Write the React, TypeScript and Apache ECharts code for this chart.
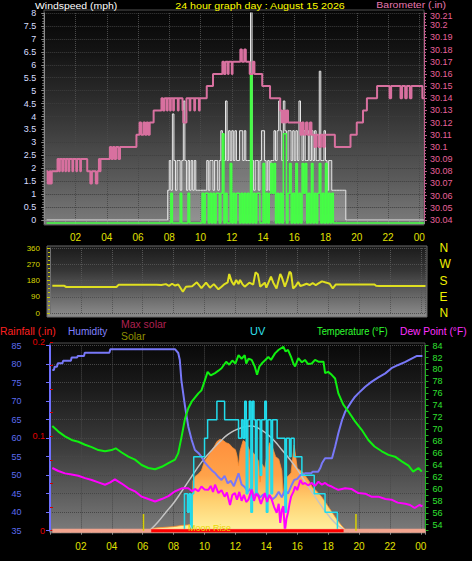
import React, { useEffect, useRef } from 'react';
import * as echarts from 'echarts';

// ---------------- data ----------------
const hourLabels = ['', '02', '04', '06', '08', '10', '12', '14', '16', '18', '20', '22', '00'];
const compass = ['N', 'E', 'S', 'W', 'N'];

const dayStart = 0.15;
const dayEnd = 24.3;

// barometer (in) step changes [hour, value]
const barometer: number[][] = [
  [0.15, 30.08], [0.22, 30.07], [0.35, 30.08], [0.4, 30.07], [0.48, 30.08], [0.85, 30.09], [0.95, 30.08],
  [1.0, 30.09], [1.15, 30.08], [1.2, 30.09], [1.35, 30.08], [1.4, 30.09], [1.55, 30.08], [1.6, 30.09],
  [1.8, 30.08], [1.85, 30.09], [2.05, 30.08], [2.1, 30.09], [2.3, 30.08], [2.35, 30.09], [2.75, 30.08],
  [2.95, 30.07], [3.05, 30.08], [3.3, 30.07], [3.4, 30.08], [3.5, 30.09], [3.55, 30.08], [3.6, 30.09],
  [4.2, 30.1], [4.3, 30.09], [4.4, 30.1], [4.5, 30.09], [4.6, 30.1], [4.75, 30.09], [4.85, 30.1],
  [5.9, 30.11], [6.1, 30.12], [6.2, 30.11], [6.35, 30.12], [6.45, 30.11], [6.55, 30.12], [6.65, 30.11],
  [6.75, 30.12], [7.0, 30.13], [7.5, 30.14], [7.6, 30.13], [7.7, 30.14], [7.85, 30.13], [7.9, 30.14],
  [8.05, 30.13], [8.1, 30.14], [8.25, 30.13], [8.3, 30.14], [8.55, 30.13], [8.6, 30.14], [8.85, 30.13],
  [8.9, 30.12], [9.1, 30.14], [9.3, 30.13], [9.35, 30.14], [9.6, 30.13], [9.65, 30.14], [9.9, 30.13],
  [9.95, 30.14], [10.4, 30.15], [10.8, 30.16], [11.4, 30.17], [11.5, 30.16], [11.6, 30.17], [11.75, 30.16],
  [11.8, 30.17], [12.0, 30.16], [12.05, 30.17], [12.55, 30.18], [12.65, 30.17], [12.8, 30.18], [12.9, 30.17],
  [13.15, 30.16], [13.35, 30.17], [13.45, 30.16], [13.95, 30.15], [14.45, 30.14], [15.1, 30.13], [15.2, 30.12],
  [15.3, 30.13], [15.4, 30.12], [15.5, 30.13], [15.6, 30.12], [16.4, 30.11], [16.5, 30.12], [16.6, 30.11],
  [16.75, 30.12], [16.85, 30.11], [17.0, 30.12], [17.1, 30.11], [17.3, 30.1], [17.4, 30.11], [17.55, 30.1],
  [17.7, 30.11], [17.85, 30.1], [17.95, 30.11], [18.6, 30.1], [19.6, 30.11], [20.0, 30.12], [20.4, 30.13],
  [20.65, 30.14], [21.3, 30.15], [22.1, 30.14], [22.2, 30.15], [22.8, 30.14], [22.9, 30.15], [23.1, 30.14],
  [23.2, 30.15], [23.4, 30.14], [23.5, 30.15], [24.2, 30.14], [24.3, 30.14],
];

// wind (mph), sampled every 0.1 h from windStart
const windStart = 7.8;
const windStep = 0.1;
const gust = [
  0, 1.15, 2.3, 1.15, 4.1, 2.3, 1.15, 2.3, 2.3, 1.15, 2.3, 4.6, 2.3, 1.15, 2.3, 1.15, 2.3, 1.15, 2.3, 1.15,
  1.15, 1.15, 1.15, 1.15, 1.15, 1.15, 2.3, 1.15, 2.3, 2.3, 1.15, 2.3, 2.3, 1.15, 2.3, 3.45, 2.3, 2.3, 4.6, 2.3,
  3.45, 2.3, 3.45, 2.3, 3.45, 2.3, 2.3, 3.45, 3.45, 2.3, 3.45, 2.3, 2.3, 2.3, 8.05, 2.3, 1.15, 2.3, 2.3, 1.15,
  2.3, 3.45, 3.45, 2.3, 1.15, 2.3, 1.15, 2.3, 2.3, 3.45, 2.3, 3.45, 4.6, 3.45, 2.3, 4.6, 3.45, 2.3, 3.45, 3.45,
  2.3, 3.45, 2.3, 3.45, 2.3, 4.6, 3.45, 2.3, 3.45, 2.3, 2.3, 3.45, 2.3, 3.45, 2.3, 3.45, 2.3, 2.3, 5.75, 2.3,
  2.3, 3.45, 2.3, 1.15, 2.3, 2.3, 1.15, 1.15, 1.15, 1.15, 1.15, 1.15, 1.15, 1.15, 1.15, 0, 0,
];
const windAvg = [
  0, 0, 0, 1.15, 0, 0, 0, 0, 0, 1.15, 0, 0, 0, 0, 1.15, 0, 0, 0, 0, 0,
  0, 0, 0, 1.15, 0, 1.15, 1.15, 0, 1.15, 0, 1.15, 0, 1.15, 1.15, 0, 1.15, 3.45, 0, 1.15, 0,
  0, 2.3, 0, 1.15, 0, 1.15, 1.15, 0, 1.15, 0, 1.15, 0, 1.15, 0, 5.75, 0, 1.15, 0, 1.15, 1.15,
  0, 0, 2.3, 0, 1.15, 0, 1.15, 2.3, 1.15, 2.3, 0, 1.15, 0, 1.15, 0, 3.45, 3.45, 0, 1.15, 2.3,
  0, 1.15, 0, 2.3, 0, 1.15, 0, 2.3, 1.15, 2.3, 0, 1.15, 0, 2.3, 0, 1.15, 0, 1.15, 2.3, 0,
  1.15, 0, 2.3, 0, 1.15, 0, 1.15, 0, 0, 0, 0, 0, 0, 0, 0, 0, 0,
];

// wind direction (degrees)
const windDirection: number[][] = [
  [0.15, 151], [0.9, 151], [1.05, 144], [4.3, 144], [4.45, 157], [6.9, 157], [7.2, 155], [7.5, 160],
  [7.7, 150], [7.9, 162], [8.1, 152], [8.3, 158], [8.6, 118], [8.8, 145], [9.2, 148], [9.5, 170],
  [9.8, 138], [10.1, 168], [10.35, 140], [10.6, 160], [10.9, 131], [11.1, 145], [11.3, 160], [11.5, 170],
  [11.6, 216], [11.75, 175], [11.9, 155], [12.05, 183], [12.2, 160], [12.3, 183], [12.45, 160], [12.6, 146],
  [12.9, 168], [13.15, 157], [13.3, 225], [13.45, 215], [13.6, 146], [13.9, 168], [14.0, 140], [14.3, 201],
  [14.45, 168], [14.66, 136], [14.9, 216], [15.0, 199], [15.2, 146], [15.35, 180], [15.5, 229], [15.6, 220],
  [15.73, 136], [15.9, 150], [16.06, 172], [16.2, 150], [16.4, 155], [16.6, 162], [16.8, 155], [17.0, 165],
  [17.2, 155], [17.4, 165], [17.6, 175], [17.9, 168], [18.1, 162], [18.3, 136], [18.5, 158], [21.0, 158],
  [21.1, 151], [21.3, 149], [24.3, 149],
];

// humidity (%)
const humidity: number[][] = [
  [0.15, 78.4], [0.25, 78.4], [0.3, 79.3], [0.45, 79.3], [0.5, 80.2], [0.8, 80.2], [0.85, 80.9], [1.35, 80.9],
  [1.4, 81.8], [1.75, 81.8], [1.8, 82.2], [2.2, 82.2], [2.25, 83.1], [3.85, 83.1], [3.9, 84.0], [8.1, 84.0],
  [8.3, 83.0], [8.4, 81.1], [8.5, 75.7], [8.74, 68.5], [8.95, 63.1], [9.17, 59.5], [9.38, 56.8], [9.6, 56.0],
  [9.8, 55.0], [10.0, 53.5], [10.25, 52.3], [10.5, 51.2], [10.7, 50.5], [10.9, 49.5], [11.1, 48.7], [11.3, 49.8],
  [11.5, 47.8], [11.7, 48.5], [11.9, 47.0], [12.0, 48.2], [12.2, 50.5], [12.4, 47.5], [12.6, 46.8], [12.8, 45.5],
  [13.0, 46.5], [13.2, 44.5], [13.4, 45.2], [13.6, 44.0], [13.8, 44.8], [14.0, 43.8], [14.2, 44.5], [14.4, 43.5],
  [14.6, 44.2], [14.8, 45.5], [15.0, 44.0], [15.2, 46.0], [15.4, 45.0], [15.6, 47.0], [15.8, 48.7], [16.0, 49.0],
  [16.2, 50.0], [16.5, 50.5], [16.9, 50.5], [17.0, 50.9], [17.35, 50.9], [17.5, 52.0], [17.6, 53.2], [17.8, 54.6],
  [18.25, 54.6], [18.45, 57.7], [18.66, 61.3], [18.9, 64.9], [19.1, 67.1], [19.3, 68.5], [19.5, 69.8], [19.74, 71.2],
  [19.95, 72.1], [20.4, 73.9], [20.8, 75.2], [21.25, 76.4], [21.7, 77.5], [22.1, 78.9], [22.5, 79.7], [23.0, 80.6],
  [23.4, 81.5], [23.75, 82.2], [24.1, 82.2],
];

// temperature (F)
const temperature: number[][] = [
  [0.15, 70.55], [0.54, 69.6], [0.97, 68.8], [1.4, 68.2], [1.83, 67.9], [2.27, 67.4], [2.7, 67.0], [3.13, 66.5],
  [3.56, 66.3], [3.99, 66.5], [4.25, 66.8], [4.64, 66.1], [5.07, 65.4], [5.5, 64.9], [5.93, 64.0], [6.36, 63.5],
  [6.8, 63.3], [7.23, 63.7], [7.66, 64.3], [8.09, 64.9], [8.3, 66.0], [8.52, 68.8], [8.74, 71.8], [8.95, 73.5],
  [9.17, 74.6], [9.6, 76.0], [9.8, 76.5], [10.0, 78.0], [10.2, 79.6], [10.4, 79.0], [10.68, 79.4], [10.9, 79.8],
  [11.1, 80.2], [11.4, 81.3], [11.6, 80.8], [11.8, 81.5], [12.0, 81.0], [12.2, 82.4], [12.4, 81.8], [12.6, 82.4],
  [12.7, 81.0], [12.85, 81.8], [13.05, 81.6], [13.25, 80.5], [13.4, 79.1], [13.55, 80.5], [13.7, 81.0], [13.9, 81.5],
  [14.13, 82.1], [14.3, 81.6], [14.56, 82.7], [14.8, 83.3], [15.1, 83.8], [15.25, 83.0], [15.4, 83.3], [15.6, 82.1],
  [15.75, 81.0], [15.86, 80.5], [16.07, 81.9], [16.3, 81.2], [16.5, 81.6], [16.7, 80.9], [16.94, 81.0], [17.15, 81.6],
  [17.37, 81.3], [17.7, 81.3], [17.8, 79.4], [18.0, 79.6], [18.23, 79.1], [18.45, 78.5], [18.66, 76.0], [18.98, 74.1],
  [19.3, 73.0], [19.74, 71.3], [20.17, 69.9], [20.6, 68.2], [21.0, 67.1], [21.47, 66.3], [21.9, 65.7], [22.33, 65.4],
  [22.76, 64.6], [23.2, 63.9], [23.5, 62.9], [23.84, 63.5], [24.06, 62.9],
];

// dew point (F)
const dewPoint: number[][] = [
  [0.15, 63.5], [0.54, 63.0], [0.97, 62.6], [1.4, 62.4], [1.83, 62.2], [2.27, 61.8], [2.7, 61.5], [3.13, 61.1],
  [3.56, 60.7], [3.9, 61.1], [4.2, 61.6], [4.64, 60.9], [5.07, 60.1], [5.5, 59.6], [5.93, 58.7], [6.36, 58.3],
  [6.8, 57.9], [7.23, 58.3], [7.66, 58.8], [8.09, 59.6], [8.52, 60.1], [8.95, 60.1], [9.2, 59.6], [9.38, 60.0],
  [9.6, 59.6], [9.8, 60.4], [10.0, 59.9], [10.25, 59.85], [10.4, 60.5], [10.55, 59.5], [10.68, 60.7], [10.9, 59.3],
  [11.1, 59.8], [11.3, 58.7], [11.45, 59.4], [11.65, 57.3], [11.8, 59.0], [11.97, 59.3], [12.1, 58.2], [12.25, 59.5],
  [12.4, 58.0], [12.55, 59.0], [12.7, 57.8], [12.84, 58.2], [13.05, 59.9], [13.2, 58.0], [13.35, 59.2], [13.5, 58.7],
  [13.65, 57.5], [13.9, 59.3], [14.05, 57.8], [14.2, 59.0], [14.35, 58.2], [14.5, 57.0], [14.67, 56.0], [14.8, 57.5],
  [14.9, 54.3], [15.0, 56.5], [15.1, 57.1], [15.2, 52.9], [15.3, 55.0], [15.4, 56.0], [15.5, 57.5], [15.6, 58.7],
  [15.75, 59.5], [15.86, 60.4], [16.0, 59.8], [16.2, 61.5], [16.35, 60.8], [16.5, 61.0], [16.7, 60.6], [16.94, 61.0],
  [17.15, 60.5], [17.37, 61.2], [17.6, 60.7], [17.8, 61.0], [18.0, 60.6], [18.23, 60.4], [18.45, 60.1], [18.66, 59.85],
  [18.9, 60.0], [19.1, 60.1], [19.5, 60.0], [19.95, 59.3], [20.4, 59.2], [20.8, 58.7], [21.25, 58.7], [21.7, 58.3],
  [22.1, 58.2], [22.5, 57.7], [23.0, 57.5], [23.3, 57.3], [23.6, 56.8], [23.9, 57.3], [24.1, 57.1],
];

// solar radiation (W/m2)
const solar: number[][] = [
  [6.4, 0], [6.6, 20], [7.0, 25], [7.5, 30], [8.0, 35], [8.5, 45], [8.9, 50], [9.2, 60], [9.25, 430], [9.4, 470],
  [9.6, 490], [9.8, 520], [10.0, 600], [10.2, 640], [10.4, 680], [10.6, 720], [10.8, 770], [11.0, 790], [11.2, 780],
  [11.4, 760], [11.6, 750], [11.8, 720], [12.0, 700], [12.1, 650], [12.2, 560], [12.3, 690], [12.5, 780], [12.7, 760],
  [12.9, 700], [13.0, 520], [13.1, 680], [13.3, 650], [13.5, 600], [13.6, 420], [13.7, 580], [13.9, 540], [14.0, 620],
  [14.2, 760], [14.4, 720], [14.6, 640], [14.8, 620], [15.0, 520], [15.1, 300], [15.2, 460], [15.4, 470], [15.6, 500],
  [15.8, 740], [16.0, 540], [16.2, 520], [16.4, 500], [16.6, 460], [16.8, 420], [17.0, 370], [17.2, 350], [17.4, 320],
  [17.6, 290], [17.8, 250], [18.0, 210], [18.2, 170], [18.4, 130], [18.6, 90], [18.8, 55], [19.0, 25], [19.2, 0],
];

// theoretical max solar (W/m2)
const maxSolar: number[][] = [
  [6.4, 0], [6.5, 8], [7.0, 78], [7.5, 160], [8.0, 240], [8.5, 335], [9.0, 435], [9.5, 535], [10.0, 625],
  [10.5, 700], [11.0, 770], [11.5, 830], [12.0, 870], [12.5, 895], [13.0, 905], [13.5, 885], [14.0, 840],
  [14.5, 780], [15.0, 700], [15.5, 620], [16.0, 530], [16.5, 425], [17.0, 325], [17.5, 225], [18.0, 135],
  [18.5, 60], [19.0, 10], [19.2, 0],
];

// UV index, sampled every 0.1 h from uvStart
const uvStart = 8.5;
const uvStep = 0.1;
const uv = [
  0, 0, 2, 2, 1, 2, 0, 2, 4, 4, 4, 4, 4, 4, 4, 5, 5, 6, 6, 6,
  6, 6, 6, 7, 7, 7, 7, 7, 6, 6, 6, 6, 6, 6, 6, 6, 6, 5, 5, 6,
  5, 7, 2, 6, 7, 1, 7, 6, 2, 6, 6, 3, 6, 6, 7, 1, 6, 6, 2, 6,
  6, 6, 5, 5, 5, 5, 5, 1, 5, 5, 4, 5, 5, 4, 4, 4, 4, 4, 3, 3,
  3, 3, 3, 3, 3, 3, 2, 2, 2, 2, 2, 2, 2, 1, 1, 1, 1, 1, 1, 1,
  1, 0, 0,
];

const rainfall: number[][] = [[dayStart, 0], [dayEnd, 0]];
const daylight = [6.55, 19.0];
const sunMarks = [6.05, 19.8];

// ---------------- helpers ----------------
const FONT = 'Liberation Sans';
const sampled = (start: number, step: number, vals: number[]) =>
  vals.map((v, i) => [Math.round((start + i * step) * 100) / 100, v]);

const hourFmt = (v: number) => {
  const i = Math.round(v / 2);
  return Math.abs(v - i * 2) < 1e-6 ? hourLabels[i] ?? '' : '';
};

const grad = (stops: [number, string][]) =>
  new echarts.graphic.LinearGradient(0, 0, 0, 1, stops.map(([offset, color]) => ({ offset, color })));

const txt = (text: string, x: number, y: number, fill: string, align = 'left', size = 11, sx = 1, sy = 1) => ({
  type: 'text',
  x,
  y,
  scaleX: sx,
  scaleY: sy,
  z: 100,
  silent: true,
  style: { text, fill, fontSize: size, fontFamily: FONT, textAlign: align, textVerticalAlign: 'middle' },
});

const BARO_COLOR = '#e6609a';

export default function App() {
  const ref = useRef<HTMLDivElement>(null);

  useEffect(() => {
    document.body.style.margin = '0';
    document.body.style.background = '#000';
    if (!ref.current) return;
    const chart = echarts.init(ref.current, null, { renderer: 'svg' });

    const gustData = [[dayStart, 0], ...sampled(windStart, windStep, gust), [dayEnd, 0]];
    const avgData = [[dayStart, 0], ...sampled(windStart, windStep, windAvg), [dayEnd, 0]];
    const uvData = sampled(uvStart, uvStep, uv);

    const grey = '#8c8c8c';
    const xBase = (gridIndex: number) => ({
      gridIndex,
      type: 'value',
      min: 0,
      max: dayEnd,
      interval: 2,
    });

    const option: any = {
      animation: false,
      backgroundColor: '#000',
      textStyle: { fontFamily: FONT },
      grid: [
        { left: 44.25, top: 13, width: 379.7, height: 207 },
        { left: 50, top: 248, width: 375.5, height: 65 },
        { left: 50, top: 345.6, width: 375.5, height: 185.1 },
        { left: 50, top: 341.9, width: 375.5, height: 188.8 },
      ],
      xAxis: [
        {
          ...xBase(0),
          offset: 5,
          axisLine: { lineStyle: { color: grey } },
          axisTick: { length: 4, lineStyle: { color: grey } },
          minorTick: { show: true, splitNumber: 3, length: 2, lineStyle: { color: grey } },
          axisLabel: { color: '#e0e000', fontSize: 10, margin: 7, formatter: hourFmt },
          splitLine: { show: true, lineStyle: { color: '#4a4a4a', type: 'dotted' } },
        },
        {
          ...xBase(1),
          axisLine: { show: false },
          axisTick: { show: false },
          axisLabel: { show: false },
          splitLine: { show: true, lineStyle: { color: '#555', type: 'dotted' } },
        },
        {
          ...xBase(2),
          offset: 2,
          axisLine: { lineStyle: { color: grey } },
          axisTick: { length: 4, lineStyle: { color: grey } },
          minorTick: { show: true, splitNumber: 3, length: 2, lineStyle: { color: grey } },
          axisLabel: { color: '#e0e000', fontSize: 10, margin: 9, formatter: hourFmt },
          splitLine: { show: true, lineStyle: { color: '#4a4a4a', type: 'dotted' } },
        },
        { ...xBase(3), show: false },
      ],
      yAxis: [
        {
          gridIndex: 0, type: 'value', min: 0, max: 8, interval: 0.5, position: 'left',
          axisLine: { show: true, lineStyle: { color: grey } },
          axisTick: { show: true, length: 3, lineStyle: { color: grey } },
          minorTick: { show: true, splitNumber: 5, length: 2, lineStyle: { color: '#777' } },
          axisLabel: { color: '#d8deff', fontSize: 9, margin: 8, showMaxLabel: true, showMinLabel: true },
          splitLine: { show: true, lineStyle: { color: '#3e3e3e', type: 'dotted' } },
        },
        {
          gridIndex: 0, type: 'value', min: 30.04, max: 30.21, interval: 0.01, position: 'right',
          axisLine: { show: true, lineStyle: { color: '#c0608e' } },
          axisTick: { show: true, length: 3, lineStyle: { color: '#c0608e' } },
          minorTick: { show: true, splitNumber: 4, length: 2, lineStyle: { color: '#c0608e' } },
          axisLabel: {
            color: BARO_COLOR, fontSize: 9, margin: 6, showMaxLabel: true, showMinLabel: true,
            formatter: (v: number) => {
              const s = String(Math.round(v * 100) / 100);
              return Math.abs(v - 30.21) < 1e-6 ? `{top|${s}}` : s;
            },
            rich: { top: { color: BARO_COLOR, fontSize: 9, padding: [5, 0, 0, 0] } },
          },
          splitLine: { show: false },
        },
        { gridIndex: 0, type: 'value', min: 0.116, max: 8.116, show: false },
        {
          gridIndex: 1, type: 'value', min: 0, max: 360, interval: 90, position: 'left', offset: 3,
          axisLine: { show: true, lineStyle: { color: '#707070' } },
          axisTick: { show: true, length: 3, lineStyle: { color: '#c8c800' } },
          minorTick: { show: true, splitNumber: 4, length: 2, lineStyle: { color: '#c8c800' } },
          axisLabel: { color: '#d8d800', fontSize: 8, margin: 7, showMaxLabel: true, showMinLabel: true },
          splitLine: { show: true, lineStyle: { color: '#505050', type: 'dotted' } },
        },
        {
          gridIndex: 1, type: 'value', min: 0, max: 360, interval: 90, position: 'right',
          axisLine: { show: false }, axisTick: { show: false },
          axisLabel: {
            color: '#f0f000', fontSize: 12, margin: 14, showMaxLabel: true, showMinLabel: true,
            formatter: (v: number) => compass[Math.round(v / 90)] ?? '',
          },
          splitLine: { show: false },
        },
        {
          gridIndex: 2, type: 'value', min: 35, max: 85, interval: 5, position: 'left', offset: 20.5,
          axisLine: { show: true, lineStyle: { color: '#7070ff', width: 2 } },
          axisTick: { show: true, length: 4, lineStyle: { color: '#7070ff' } },
          axisLabel: { color: '#5c6cf0', fontSize: 9, margin: 8, showMaxLabel: true, showMinLabel: true },
          splitLine: { show: true, lineStyle: { color: '#464646', type: 'dotted' } },
        },
        {
          gridIndex: 2, type: 'value', min: 53, max: 84, interval: 1, position: 'right',
          axisLine: { show: true, lineStyle: { color: '#22b022' } },
          axisTick: { show: true, length: 3, lineStyle: { color: '#22b022' } },
          axisLabel: {
            color: '#30e030', fontSize: 9, margin: 7, showMaxLabel: true,
            formatter: (v: number) => (Math.round(v) % 2 === 0 ? String(Math.round(v)) : ''),
          },
          splitLine: { show: false },
        },
        { gridIndex: 2, type: 'value', min: 0, max: 1600, show: false },
        { gridIndex: 2, type: 'value', min: 0, max: 10, show: false },
        {
          gridIndex: 3, type: 'value', min: 0, max: 0.2, interval: 0.025, position: 'left',
          axisLine: { show: false },
          axisTick: { show: true, inside: true, length: 3, lineStyle: { color: '#d00000' } },
          axisLabel: {
            color: '#e00000', fontSize: 9, margin: 5, showMaxLabel: true, showMinLabel: true,
            formatter: (v: number) =>
              Math.abs(v) < 1e-9 ? '0' : Math.abs(v - 0.1) < 1e-9 ? '0.1' : Math.abs(v - 0.2) < 1e-9 ? '0.2' : '',
          },
          splitLine: { show: false },
        },
      ],
      series: [
        {
          name: 'Gust', type: 'line', step: 'end', xAxisIndex: 0, yAxisIndex: 0, data: gustData,
          showSymbol: false, lineStyle: { color: '#e6e6e6', width: 1 },
          areaStyle: { color: 'rgba(225,225,225,0.35)' }, z: 3,
        },
        {
          name: 'Wind speed', type: 'line', step: 'end', xAxisIndex: 0, yAxisIndex: 2, data: avgData,
          showSymbol: false, clip: false, lineStyle: { color: '#44ff44', width: 1.5 }, z: 4,
        },
        {
          name: 'Barometer', type: 'line', step: 'end', xAxisIndex: 0, yAxisIndex: 1, data: barometer,
          showSymbol: false, lineStyle: { color: '#d8709f', width: 2 }, z: 5,
        },
        {
          name: 'Wind direction', type: 'line', xAxisIndex: 1, yAxisIndex: 3, data: windDirection,
          showSymbol: false, lineStyle: { color: '#e0e020', width: 2 }, z: 5,
        },
        {
          name: 'Solar', type: 'line', xAxisIndex: 2, yAxisIndex: 7, data: solar, showSymbol: false,
          lineStyle: { color: '#ff9030', width: 0.8 },
          areaStyle: {
            color: {
              type: 'linear', x: 0, y: 430, x2: 0, y2: 531, global: true,
              colorStops: [
                { offset: 0, color: '#ff8a38' },
                { offset: 0.45, color: '#ffa24a' },
                { offset: 0.7, color: '#ffd070' },
                { offset: 1, color: '#fff2a0' },
              ],
            },
            opacity: 1,
          },
          z: 2,
        },
        {
          name: 'Max solar', type: 'line', smooth: true, xAxisIndex: 2, yAxisIndex: 7, data: maxSolar,
          showSymbol: false, lineStyle: { color: '#c4c4c4', width: 1.5 }, z: 3,
        },
        {
          name: 'Humidity', type: 'line', xAxisIndex: 2, yAxisIndex: 5, data: humidity,
          showSymbol: false, lineStyle: { color: '#7878f8', width: 2 }, z: 4,
        },
        {
          name: 'UV', type: 'line', step: 'end', xAxisIndex: 2, yAxisIndex: 8, data: uvData,
          showSymbol: false, lineStyle: { color: '#22dcec', width: 1.5 }, z: 5,
        },
        {
          name: 'Dew Point', type: 'line', xAxisIndex: 2, yAxisIndex: 6, data: dewPoint,
          showSymbol: false, lineStyle: { color: '#ff00ff', width: 2 }, z: 6,
        },
        {
          name: 'Temperature', type: 'line', xAxisIndex: 2, yAxisIndex: 6, data: temperature,
          showSymbol: false, lineStyle: { color: '#10f010', width: 2 }, z: 7,
        },
        {
          name: 'Rainfall', type: 'line', xAxisIndex: 3, yAxisIndex: 9, data: rainfall,
          showSymbol: false, clip: false, lineStyle: { color: '#f2a48e', width: 4 }, z: 8,
        },
        {
          name: 'Daylight', type: 'line', xAxisIndex: 3, yAxisIndex: 9,
          data: daylight.map((h) => [h, 0]),
          showSymbol: false, clip: false, lineStyle: { color: '#ff0000', width: 3 }, z: 9,
        },
        ...sunMarks.map((h) => ({
          name: 'Sun', type: 'line', xAxisIndex: 2, yAxisIndex: 8,
          data: [[h, 0], [h, 0.9]], showSymbol: false, clip: false,
          lineStyle: { color: '#d8d000', width: 1.5 }, z: 9,
        })),
      ],
      graphic: [
        {
          type: 'rect', z: -10, silent: true, shape: { x: 44, y: 10, width: 380, height: 215 },
          style: {
            fill: grad([[0, '#060606'], [0.2, '#141414'], [0.5, '#363636'], [0.8, '#5c5c5c'], [1, '#7c7c7c']]),
            stroke: '#505050', lineWidth: 1,
          },
        },
        {
          type: 'rect', z: -10, silent: true, shape: { x: 47, y: 246, width: 380, height: 71 },
          style: {
            fill: grad([[0, '#1a1a1a'], [0.35, '#363636'], [0.7, '#666666'], [1, '#8e8e8e']]),
            stroke: '#6a6a6a', lineWidth: 1,
          },
        },
        {
          type: 'rect', z: -10, silent: true, shape: { x: 50, y: 343, width: 375, height: 190 },
          style: {
            fill: grad([[0, '#080808'], [0.25, '#1c1c1c'], [0.55, '#3c3c3c'], [0.8, '#5e5e5e'], [1, '#7c7c7c']]),
            stroke: '#505050', lineWidth: 1,
          },
        },
        txt('Windspeed (mph)', 35, 6, '#ffffff', 'left', 11, 0.95, 0.9),
        txt('24 hour graph day : August 15 2026', 260, 6, '#ffff00', 'center', 11, 0.97, 0.9),
        txt('Barometer (.in)', 446, 5, '#e878b0', 'right', 11, 0.95, 0.85),
        txt('Rainfall (.in)', 0, 331, '#ff2020', 'left', 11, 0.95),
        txt('Humidity', 68, 331, '#8080ff', 'left', 11, 0.92),
        txt('Max solar', 121, 324, '#b02050', 'left', 11, 0.95),
        txt('Solar', 121, 336, '#909000', 'left', 11, 0.95),
        txt('UV', 250, 331, '#30e0f0'),
        txt('Temperature (°F)', 317, 331, '#30ff30', 'left', 11, 0.85),
        txt('Dew Point (°F)', 400, 331, '#ff30ff', 'left', 11, 0.93),
        txt('Moon Rise', 188, 528, '#e8d800', 'left', 9),
      ],
    };

    chart.setOption(option);
    return () => chart.dispose();
  }, []);

  return <div ref={ref} style={{ width: 472, height: 561, background: '#000' }} />;
}
